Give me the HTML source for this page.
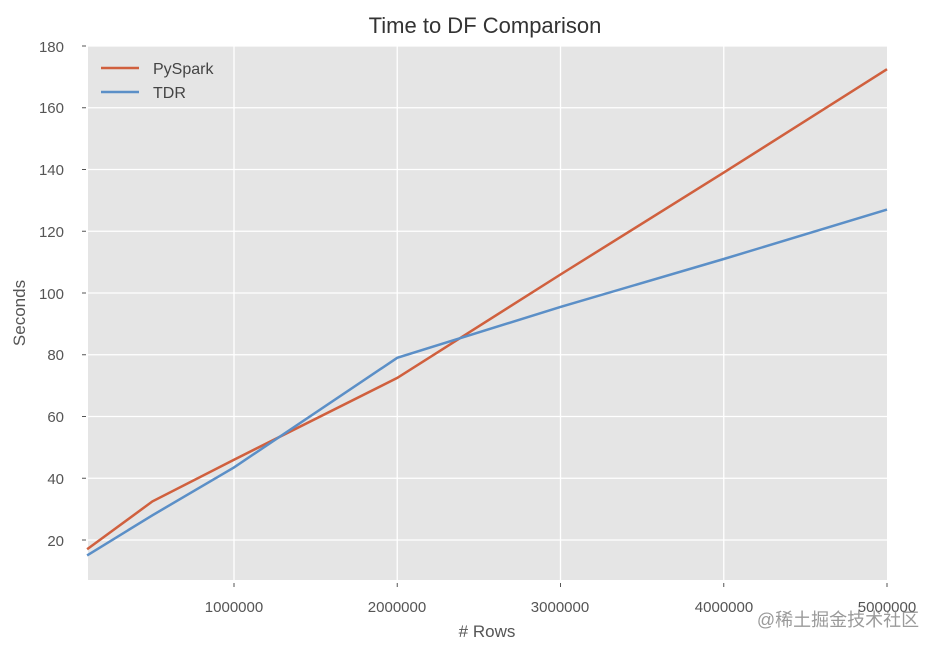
<!DOCTYPE html>
<html><head><meta charset="utf-8"><style>
body{margin:0;background:#fff;}
svg{display:block;font-family:"Liberation Sans",Arial,sans-serif;}
</style></head><body>
<svg width="936" height="648" viewBox="0 0 936 648" xmlns="http://www.w3.org/2000/svg">
<rect x="0" y="0" width="936" height="648" fill="#fff"/>
<rect x="88" y="46" width="799" height="534" fill="#e5e5e5"/>
<g stroke="#fff" stroke-width="1.3">
<line x1="234" y1="46" x2="234" y2="580"/>
<line x1="397.25" y1="46" x2="397.25" y2="580"/>
<line x1="560.5" y1="46" x2="560.5" y2="580"/>
<line x1="723.75" y1="46" x2="723.75" y2="580"/>
<line x1="88" y1="46" x2="887" y2="46"/>
<line x1="88" y1="107.75" x2="887" y2="107.75"/>
<line x1="88" y1="169.5" x2="887" y2="169.5"/>
<line x1="88" y1="231.25" x2="887" y2="231.25"/>
<line x1="88" y1="293" x2="887" y2="293"/>
<line x1="88" y1="354.75" x2="887" y2="354.75"/>
<line x1="88" y1="416.5" x2="887" y2="416.5"/>
<line x1="88" y1="478.25" x2="887" y2="478.25"/>
<line x1="88" y1="540" x2="887" y2="540"/>
</g>
<g stroke="#555" stroke-width="1">
<line x1="82" y1="46" x2="86" y2="46"/><line x1="82" y1="107.75" x2="86" y2="107.75"/><line x1="82" y1="169.5" x2="86" y2="169.5"/><line x1="82" y1="231.25" x2="86" y2="231.25"/><line x1="82" y1="293" x2="86" y2="293"/><line x1="82" y1="354.75" x2="86" y2="354.75"/><line x1="82" y1="416.5" x2="86" y2="416.5"/><line x1="82" y1="478.25" x2="86" y2="478.25"/><line x1="82" y1="540" x2="86" y2="540"/>
<line x1="234" y1="583" x2="234" y2="587"/><line x1="397.25" y1="583" x2="397.25" y2="587"/><line x1="560.5" y1="583" x2="560.5" y2="587"/><line x1="723.75" y1="583" x2="723.75" y2="587"/><line x1="887" y1="583" x2="887" y2="587"/>
</g>
<g fill="#555" font-size="15" text-anchor="end">
<text x="64" y="52">180</text><text x="64" y="113">160</text><text x="64" y="175">140</text><text x="64" y="237">120</text><text x="64" y="299">100</text><text x="64" y="360">80</text><text x="64" y="422">60</text><text x="64" y="484">40</text><text x="64" y="546">20</text>
</g>
<g fill="#555" font-size="15" text-anchor="middle">
<text x="234" y="612">1000000</text><text x="397" y="612">2000000</text><text x="560" y="612">3000000</text><text x="724" y="612">4000000</text><text x="887" y="612">5000000</text>
</g>
<text x="485" y="33" font-size="22" fill="#333" text-anchor="middle">Time to DF Comparison</text>
<text x="487" y="637" font-size="17" fill="#555" text-anchor="middle"># Rows</text>
<text x="25" y="313" font-size="17" fill="#555" text-anchor="middle" transform="rotate(-90 25 313)">Seconds</text>
<polyline fill="none" stroke="#d0603e" stroke-width="2.5" points="87.1,549.3 152.4,501.4 234,459.7 397.25,377.9 560.5,274.5 723.75,172.6 887,69.2"/>
<polyline fill="none" stroke="#5b8fc7" stroke-width="2.5" points="87.1,555.4 152.4,515.3 234,467.4 397.25,357.8 560.5,306.9 723.75,259 887,209.6"/>
<line x1="101" y1="68" x2="139" y2="68" stroke="#d0603e" stroke-width="2.5"/>
<line x1="101" y1="92" x2="139" y2="92" stroke="#5b8fc7" stroke-width="2.5"/>
<text x="153" y="74" font-size="16" fill="#444">PySpark</text>
<text x="153" y="98" font-size="16" fill="#444">TDR</text>
<text x="838" y="626" font-size="18" fill="#888" fill-opacity="0.85" text-anchor="middle" font-family="'Liberation Sans','Noto Sans CJK SC',sans-serif">@稀土掘金技术社区</text>
</svg>
</body></html>
